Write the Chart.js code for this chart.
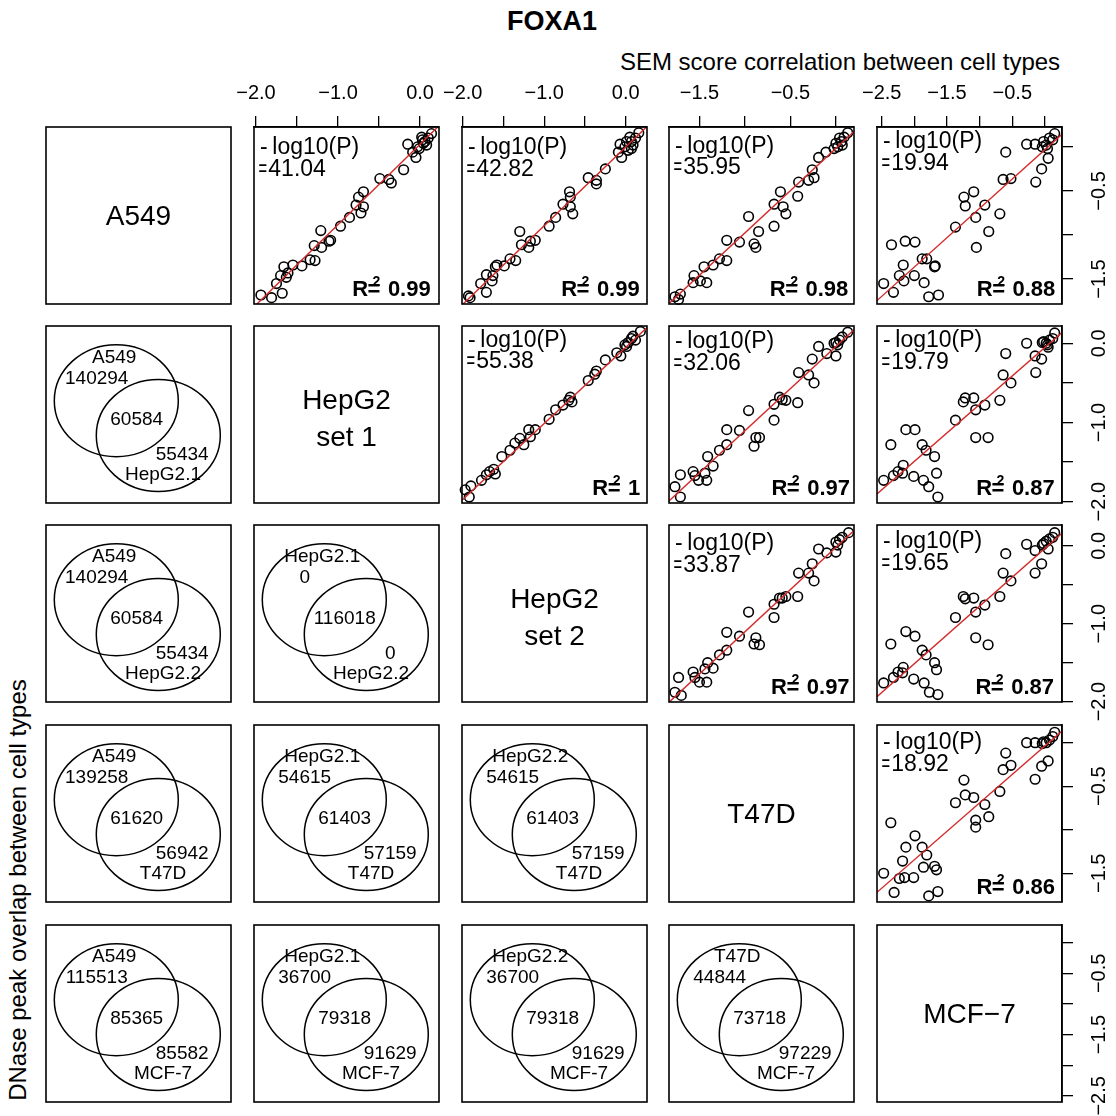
<!DOCTYPE html>
<html>
<head>
<meta charset="utf-8">
<title>FOXA1</title>
<script src="https://cdn.jsdelivr.net/npm/chart.js@4/dist/chart.umd.min.js"></script>
<style>
  html, body { margin: 0; padding: 0; background: #fff; overflow: hidden; width: 1116px; height: 1116px; }
  #page { position: relative; width: 1116px; height: 1116px; overflow: hidden; }
  #page canvas { position: absolute; }
  .lbl { position: absolute; font-family: "Liberation Sans", Arial, Helvetica, sans-serif; color: #000;
         white-space: nowrap; line-height: 1; transform: translate(-50%, -50%); }
</style>
</head>
<body>
<div id="page">
  <div class="lbl" style="left:552px; top:21px; font-size:27px; font-weight:bold;">FOXA1</div>
  <div class="lbl" style="left:840px; top:62px; font-size:24px;">SEM score correlation between cell types</div>
  <div class="lbl" style="left:18px; top:890px; font-size:24px; transform: translate(-50%, -50%) rotate(-90deg);">DNase peak overlap between cell types</div>
</div>
<script>
// ---------- data ----------
const cellLabels = ['A549', 'HepG2\nset 1', 'HepG2\nset 2', 'T47D', 'MCF\u22127'];
const vennNames = ['A549', 'HepG2.1', 'HepG2.2', 'T47D', 'MCF-7'];

// axis ranges per variable (x for columns, y for rows)
const colRange = [[-1.782, 0.225], [-2.024, 0.231], [-2.009, 0.261], [-1.835, 0.199], [-2.572, 0.262]];
const rowRange = [[-1.782, 0.225], [-2.016, 0.218], [-2.005, 0.268], [-1.83, 0.203], [-2.6, 0.289]];

// tick marks and the ticks that carry a label
const colTicks = [null, [-2, -1.5, -1, -0.5, 0], [-2, -1.5, -1, -0.5, 0], [-1.5, -1, -0.5, 0], [-2.5, -2, -1.5, -1, -0.5, 0]];
const colTickLabels = [null, [-2, -1, 0], [-2, -1, 0], [-1.5, -0.5], [-2.5, -1.5, -0.5]];
const rowTicks = [[-1.5, -1, -0.5, 0], [-2, -1.5, -1, -0.5, 0], [-2, -1.5, -1, -0.5, 0], [-1.5, -1, -0.5, 0], [-2.5, -2, -1.5, -1, -0.5, 0]];
const rowTickLabels = [[-1.5, -0.5], [-2, -1, 0], [-2, -1, 0], [-1.5, -0.5], [-2.5, -1.5, -0.5]];

// SEM scores: [x = column cell type, y = row cell type]
const semA549_HepG2set1 = [[-1.94,-1.68],[-1.81,-1.71],[-1.68,-1.66],[-1.75,-1.55],[-1.70,-1.46],[-1.63,-1.48],[-1.61,-1.43],[-1.66,-1.36],[-1.55,-1.34],[-1.44,-1.35],[-1.34,-1.28],[-1.28,-1.29],[-1.29,-1.12],[-1.20,-1.14],[-1.11,-1.07],[-1.09,-1.06],[-1.21,-0.95],[-0.97,-0.90],[-0.86,-0.80],[-0.72,-0.75],[-0.69,-0.68],[-0.78,-0.66],[-0.75,-0.57],[-0.69,-0.51],[-0.49,-0.36],[-0.38,-0.37],[-0.35,-0.41],[-0.20,-0.26],[-0.05,-0.12],[-0.09,-0.06],[-0.15,0.03],[-0.01,-0.02],[0.02,0.11],[0.06,0.06],[0.08,0.02],[0.14,0.15],[0.04,0.04],[-0.03,0.00],[0.10,0.10],[0.03,0.08]];
const semA549_HepG2set2 = [[-1.93,-1.69],[-1.91,-1.71],[-1.71,-1.65],[-1.78,-1.55],[-1.71,-1.45],[-1.64,-1.52],[-1.63,-1.46],[-1.60,-1.36],[-1.58,-1.34],[-1.49,-1.35],[-1.42,-1.27],[-1.35,-1.29],[-1.30,-0.96],[-1.28,-1.11],[-1.19,-1.14],[-1.17,-1.07],[-1.11,-1.06],[-0.94,-0.90],[-0.86,-0.80],[-0.77,-0.65],[-0.69,-0.51],[-0.68,-0.57],[-0.68,-0.68],[-0.65,-0.76],[-0.46,-0.35],[-0.36,-0.38],[-0.36,-0.42],[-0.25,-0.25],[-0.05,-0.12],[-0.09,-0.06],[-0.07,0.03],[-0.01,0.00],[0.05,0.11],[0.07,0.06],[0.16,0.16],[0.03,-0.04],[0.09,0.02],[0.12,0.10],[0.01,0.06],[0.07,-0.02]];
const semA549_T47D = [[-1.77,-1.70],[-1.71,-1.67],[-1.73,-1.73],[-1.57,-1.54],[-1.56,-1.46],[-1.49,-1.52],[-1.42,-1.54],[-1.45,-1.36],[-1.35,-1.34],[-1.28,-1.27],[-1.20,-1.29],[-1.20,-1.06],[-1.06,-1.08],[-0.96,-0.79],[-0.90,-1.10],[-0.88,-1.14],[-0.85,-0.96],[-0.68,-0.90],[-0.68,-0.65],[-0.61,-0.51],[-0.58,-0.68],[-0.55,-0.76],[-0.42,-0.56],[-0.41,-0.40],[-0.30,-0.38],[-0.26,-0.26],[-0.24,-0.35],[-0.19,-0.12],[-0.11,-0.06],[0.00,0.04],[0.04,0.10],[0.02,0.00],[0.06,0.06],[0.07,0.02],[0.13,0.16],[-0.02,-0.02],[0.09,0.11]];
const semA549_MCF7 = [[-2.47,-1.55],[-2.32,-1.65],[-2.35,-1.11],[-2.14,-1.07],[-1.99,-1.08],[-2.17,-1.34],[-2.23,-1.46],[-2.16,-1.52],[-2.00,-1.46],[-1.88,-1.27],[-1.81,-1.27],[-1.68,-1.35],[-1.69,-1.36],[-1.85,-1.54],[-1.78,-1.70],[-1.63,-1.68],[-1.37,-0.91],[-1.24,-0.57],[-1.22,-0.67],[-1.09,-0.51],[-1.06,-0.80],[-1.05,-1.14],[-0.92,-0.66],[-0.86,-0.96],[-0.69,-0.76],[-0.64,-0.37],[-0.52,-0.36],[-0.60,-0.06],[-0.28,0.03],[-0.15,0.03],[-0.14,-0.40],[-0.05,-0.25],[0.05,-0.13],[-0.02,0.06],[0.02,0.02],[0.07,0.10],[0.15,0.15],[0.04,-0.02],[0.12,0.08],[-0.04,0.00]];
const semHepG2set1_HepG2set2 = [[-1.97,-1.85],[-1.92,-1.94],[-1.90,-1.80],[-1.77,-1.73],[-1.71,-1.66],[-1.67,-1.62],[-1.60,-1.65],[-1.62,-1.59],[-1.52,-1.43],[-1.42,-1.35],[-1.36,-1.26],[-1.30,-1.20],[-1.25,-1.28],[-1.17,-1.18],[-1.11,-1.09],[-1.19,-1.09],[-0.94,-0.96],[-0.86,-0.84],[-0.77,-0.78],[-0.70,-0.72],[-0.66,-0.74],[-0.68,-0.68],[-0.46,-0.47],[-0.38,-0.39],[-0.36,-0.35],[-0.25,-0.21],[-0.11,-0.12],[-0.06,-0.16],[-0.01,-0.02],[0.03,0.01],[0.07,0.06],[0.12,0.04],[0.18,0.15],[0.01,-0.04],[0.09,0.09]];
const semHepG2set1_T47D = [[-1.77,-1.81],[-1.71,-1.94],[-1.71,-1.66],[-1.57,-1.62],[-1.55,-1.67],[-1.51,-1.73],[-1.42,-1.73],[-1.44,-1.64],[-1.41,-1.43],[-1.35,-1.55],[-1.28,-1.35],[-1.20,-1.28],[-1.20,-1.09],[-1.06,-1.10],[-0.96,-0.85],[-0.90,-1.30],[-0.88,-1.19],[-0.84,-1.19],[-0.68,-0.97],[-0.68,-0.77],[-0.62,-0.68],[-0.59,-0.71],[-0.55,-0.72],[-0.42,-0.75],[-0.41,-0.37],[-0.30,-0.40],[-0.24,-0.50],[-0.26,-0.20],[-0.19,-0.04],[-0.10,-0.13],[0.00,-0.16],[0.00,0.01],[0.04,0.04],[0.07,0.08],[0.13,0.14],[0.02,-0.02],[-0.02,0.00]];
const semHepG2set1_MCF7 = [[-2.47,-1.73],[-2.36,-1.28],[-2.32,-1.67],[-2.25,-1.62],[-2.17,-1.54],[-2.18,-1.64],[-2.13,-1.09],[-1.99,-1.09],[-2.01,-1.68],[-1.88,-1.28],[-1.86,-1.73],[-1.82,-1.35],[-1.78,-1.81],[-1.69,-1.43],[-1.66,-1.64],[-1.64,-1.94],[-1.37,-0.97],[-1.25,-0.74],[-1.22,-0.69],[-1.09,-0.69],[-1.06,-0.84],[-1.06,-1.19],[-0.92,-0.78],[-0.87,-1.19],[-0.69,-0.72],[-0.64,-0.40],[-0.52,-0.50],[-0.60,-0.13],[-0.28,0.00],[-0.15,-0.16],[-0.14,-0.37],[-0.05,-0.20],[0.05,-0.05],[-0.02,0.02],[0.02,0.00],[0.07,0.04],[0.15,0.13],[0.12,0.06],[-0.04,0.01],[0.04,-0.02]];
const semHepG2set2_T47D = [[-1.77,-1.88],[-1.70,-1.92],[-1.73,-1.69],[-1.57,-1.62],[-1.55,-1.69],[-1.50,-1.75],[-1.42,-1.75],[-1.44,-1.58],[-1.41,-1.50],[-1.35,-1.57],[-1.28,-1.40],[-1.20,-1.34],[-1.20,-1.11],[-1.06,-1.16],[-0.96,-0.85],[-0.90,-1.26],[-0.88,-1.18],[-0.84,-1.27],[-0.68,-0.92],[-0.68,-0.75],[-0.62,-0.67],[-0.59,-0.67],[-0.55,-0.65],[-0.42,-0.65],[-0.41,-0.35],[-0.30,-0.35],[-0.24,-0.45],[-0.26,-0.23],[-0.19,-0.04],[-0.10,-0.09],[0.00,-0.08],[0.00,0.05],[0.04,0.08],[0.07,0.11],[0.14,0.17],[0.02,0.01]];
const semHepG2set2_MCF7 = [[-2.47,-1.76],[-2.36,-1.26],[-2.32,-1.69],[-2.25,-1.62],[-2.17,-1.56],[-2.18,-1.63],[-2.13,-1.10],[-1.99,-1.16],[-2.01,-1.71],[-1.88,-1.34],[-1.85,-1.76],[-1.82,-1.40],[-1.77,-1.88],[-1.69,-1.50],[-1.66,-1.59],[-1.64,-1.91],[-1.37,-0.92],[-1.25,-0.65],[-1.22,-0.68],[-1.09,-0.67],[-1.06,-0.85],[-1.06,-1.18],[-0.92,-0.76],[-0.87,-1.27],[-0.69,-0.65],[-0.64,-0.35],[-0.52,-0.45],[-0.60,-0.10],[-0.28,0.02],[-0.15,-0.35],[-0.15,-0.06],[-0.05,-0.23],[0.05,-0.04],[-0.02,0.03],[0.02,0.06],[0.07,0.09],[0.15,0.17],[0.12,0.11],[-0.04,0.01]];
const semT47D_MCF7 = [[-2.47,-1.50],[-2.36,-0.92],[-2.31,-1.72],[-2.23,-1.56],[-2.15,-1.55],[-2.01,-1.55],[-2.18,-1.36],[-2.13,-1.20],[-1.99,-1.07],[-1.88,-1.20],[-1.86,-1.43],[-1.81,-1.29],[-1.78,-1.76],[-1.69,-1.42],[-1.66,-1.46],[-1.64,-1.71],[-1.37,-0.69],[-1.24,-0.43],[-1.22,-0.60],[-1.09,-0.63],[-1.06,-0.89],[-1.06,-0.97],[-0.92,-0.71],[-0.86,-0.85],[-0.69,-0.56],[-0.64,-0.31],[-0.52,-0.26],[-0.60,-0.12],[-0.28,0.00],[-0.15,0.00],[-0.15,-0.42],[-0.05,-0.27],[0.05,-0.21],[-0.02,0.01],[0.02,0.00],[0.07,0.03],[0.15,0.12],[0.12,0.07],[-0.04,-0.01]];

// upper panels: [row, col] (0-based), points, fit, statistics
const scatterCells = [[0,1],[0,2],[0,3],[0,4],[1,2],[1,3],[1,4],[2,3],[2,4],[3,4]];
const scatterPoints = [semA549_HepG2set1, semA549_HepG2set2, semA549_T47D, semA549_MCF7,
  semHepG2set1_HepG2set2, semHepG2set1_T47D, semHepG2set1_MCF7, semHepG2set2_T47D, semHepG2set2_MCF7, semT47D_MCF7];
const fitIntercept = [0.029, -0.002, -0.017, -0.033, -0.051, -0.040, -0.053, -0.018, -0.033, -0.037];
const fitSlope = [0.911, 0.892, 0.959, 0.665, 0.960, 1.063, 0.719, 1.085, 0.740, 0.654];
const negLog10P = [41.04, 42.82, 35.95, 19.94, 55.38, 32.06, 19.79, 33.87, 19.65, 18.92];
const rSquared = [0.99, 0.99, 0.98, 0.88, 1, 0.97, 0.87, 0.97, 0.87, 0.86];

// lower panels: DNase peak overlaps
const vennCells = [[1,0],[2,0],[2,1],[3,0],[3,1],[3,2],[4,0],[4,1],[4,2],[4,3]];
const vennFirstOnly = [140294, 140294, 0, 139258, 54615, 54615, 115513, 36700, 36700, 44844];
const vennShared = [60584, 60584, 116018, 61620, 61403, 61403, 85365, 79318, 79318, 73718];
const vennSecondOnly = [55434, 55434, 0, 56942, 57159, 57159, 85582, 91629, 91629, 97229];

// ---------- layout ----------
const FONT = '"Liberation Sans", Arial, Helvetica, sans-serif';
const BOX_LEFT = [46, 254, 462, 669, 877];
const BOX_TOP = [127, 326, 525, 725, 925];
const BOX_W = 185, BOX_H = 177;
const MARGIN = 40, AX_H = 50, AX_W = 60;
const statBaseline = [27, 27, 25.7, 21.3, 20.7, 22.3, 21.3, 25, 23.3, 24.3];
const statRight = [8.3, 7.3, 5.7, 6.7, 6.7, 4, 7.3, 4.4, 8, 7];

const page = document.getElementById('page');

function fmtTick(v) {
  return (v < -1e-9 ? '\u2212' : '') + Math.abs(v).toFixed(1);
}

function axisOptions(axis, range, show, ticks, labelled) {
  const opts = {
    type: 'linear',
    min: range[0],
    max: range[1],
    display: show,
    position: axis === 'x' ? 'top' : 'right',
    grid: { display: true, drawOnChartArea: false, drawTicks: true, tickLength: 11, color: '#000', lineWidth: 1.3 },
    border: { display: true, color: '#000', width: 1.5 },
    ticks: {
      autoSkip: false,
      color: '#000',
      font: { family: FONT, size: 20 },
      padding: axis === 'x' ? 11 : 7,
      callback: v => (labelled && labelled.some(l => Math.abs(l - v) < 1e-9)) ? fmtTick(v) : ''
    },
    afterBuildTicks: s => { if (ticks) s.ticks = ticks.map(v => ({ value: v })); },
    afterFit: s => {
      if (!show) { s.width = 0; s.height = 0; return; }
      if (axis === 'x') s.height = AX_H; else s.width = AX_W;
    }
  };
  if (axis === 'y') {
    opts.ticks.minRotation = 90;
    opts.ticks.maxRotation = 90;
    opts.ticks.crossAlign = 'center';
  } else {
    opts.ticks.minRotation = 0;
    opts.ticks.maxRotation = 0;
  }
  return opts;
}

function makePanel(r, c, datasets, draw) {
  const topAxis = r === 0 && c > 0;
  const rightAxis = c === 4;
  const w = BOX_W + 2 * MARGIN + (rightAxis ? AX_W : 0);
  const h = BOX_H + 2 * MARGIN + (topAxis ? AX_H : 0);
  const cv = document.createElement('canvas');
  cv.width = w; cv.height = h;
  cv.style.width = w + 'px'; cv.style.height = h + 'px';
  cv.style.left = (BOX_LEFT[c] - MARGIN) + 'px';
  cv.style.top = (BOX_TOP[r] - MARGIN - (topAxis ? AX_H : 0)) + 'px';
  page.appendChild(cv);
  return new Chart(cv, {
    type: 'scatter',
    data: { datasets },
    options: {
      responsive: false,
      animation: false,
      devicePixelRatio: 1,
      events: [],
      layout: { padding: MARGIN },
      plugins: { legend: { display: false }, tooltip: { enabled: false } },
      scales: {
        x: axisOptions('x', colRange[c], topAxis, colTicks[c], colTickLabels[c]),
        y: axisOptions('y', rowRange[r], rightAxis, rowTicks[r], rowTickLabels[r])
      }
    },
    plugins: [{
      id: 'panelDecor',
      afterDatasetsDraw(chart) {
        const ctx = chart.ctx, a = chart.chartArea;
        ctx.save();
        ctx.fillStyle = '#000';
        ctx.strokeStyle = '#000';
        draw(ctx, a);
        ctx.lineWidth = 1.6;
        ctx.strokeRect(a.left, a.top, a.right - a.left, a.bottom - a.top);
        ctx.restore();
      }
    }]
  });
}

// diagonal: cell type names
cellLabels.forEach((label, i) => {
  makePanel(i, i, [], (ctx, a) => {
    ctx.font = '28px ' + FONT;
    ctx.textAlign = 'center';
    ctx.textBaseline = 'alphabetic';
    const cx = (a.left + a.right) / 2, cy = (a.top + a.bottom) / 2;
    const lines = label.split('\n');
    if (lines.length === 1) {
      ctx.fillText(lines[0], cx, cy + 9);
    } else {
      ctx.fillText(lines[0], cx, cy - 6);
      ctx.fillText(lines[1], cx, cy + 31);
    }
  });
});

// upper triangle: SEM score scatter with fitted line
scatterCells.forEach(([r, c], k) => {
  const xr = colRange[c];
  const a0 = fitIntercept[k], b = fitSlope[k];
  const datasets = [
    {
      type: 'line',
      data: [{ x: xr[0], y: a0 + b * xr[0] }, { x: xr[1], y: a0 + b * xr[1] }],
      borderColor: '#d42a2a',
      borderWidth: 1.4,
      pointRadius: 0,
      fill: false,
      tension: 0,
      order: 1,
      clip: 0
    },
    {
      type: 'scatter',
      data: scatterPoints[k].map(p => ({ x: p[0], y: p[1] })),
      pointStyle: 'circle',
      pointRadius: 4.8,
      pointBorderWidth: 1.6,
      pointBorderColor: '#000',
      pointBackgroundColor: 'rgba(0,0,0,0)',
      order: 2,
      clip: false
    }
  ];
  makePanel(r, c, datasets, (ctx, a) => {
    ctx.textBaseline = 'alphabetic';
    ctx.textAlign = 'left';
    ctx.font = '23px ' + FONT;
    const y1 = a.top + statBaseline[k];
    const y2 = y1 + 21.7;
    ctx.fillText('-', a.left + 6, y1);
    ctx.fillText('log10(P)', a.left + 18.3, y1);
    ctx.save();
    ctx.translate(a.left + 4.4, y2);
    ctx.scale(0.64, 1);
    ctx.fillText('=', 0, 0);
    ctx.restore();
    ctx.fillText(negLog10P[k].toFixed(2), a.left + 14.3, y2);

    ctx.font = 'bold 22px ' + FONT;
    ctx.textAlign = 'right';
    const yb = a.bottom - 8.3;
    const xv = a.right - statRight[k];
    const val = String(rSquared[k]);
    ctx.fillText(val, xv, yb);
    const eqEnd = xv - ctx.measureText(val).width - 7.5;
    ctx.fillText('=', eqEnd, yb);
    const eqStart = eqEnd - ctx.measureText('=').width;
    ctx.fillText('R', eqStart + 0.5, yb);
    ctx.font = 'bold 14px ' + FONT;
    ctx.textAlign = 'left';
    ctx.fillText('2', eqStart + 5, yb - 9.5);
  });
});

// lower triangle: peak overlap Venn diagrams
vennCells.forEach(([r, c], k) => {
  makePanel(r, c, [], (ctx, a) => {
    ctx.lineWidth = 1.5;
    ctx.beginPath();
    ctx.ellipse(a.left + 70.3, a.top + 74.7, 62, 56, 0, 0, 2 * Math.PI);
    ctx.stroke();
    ctx.beginPath();
    ctx.ellipse(a.left + 112.3, a.top + 109.5, 62, 56, 0, 0, 2 * Math.PI);
    ctx.stroke();
    ctx.font = '19px ' + FONT;
    ctx.textAlign = 'center';
    ctx.textBaseline = 'alphabetic';
    ctx.fillText(vennNames[c], a.left + 68.2, a.top + 37.3);
    ctx.fillText(String(vennFirstOnly[k]), a.left + 50.7, a.top + 58);
    ctx.fillText(String(vennShared[k]), a.left + 90.7, a.top + 99);
    ctx.fillText(String(vennSecondOnly[k]), a.left + 136.2, a.top + 134);
    ctx.fillText(vennNames[r], a.left + 117, a.top + 154);
  });
});
</script>
</body>
</html>
